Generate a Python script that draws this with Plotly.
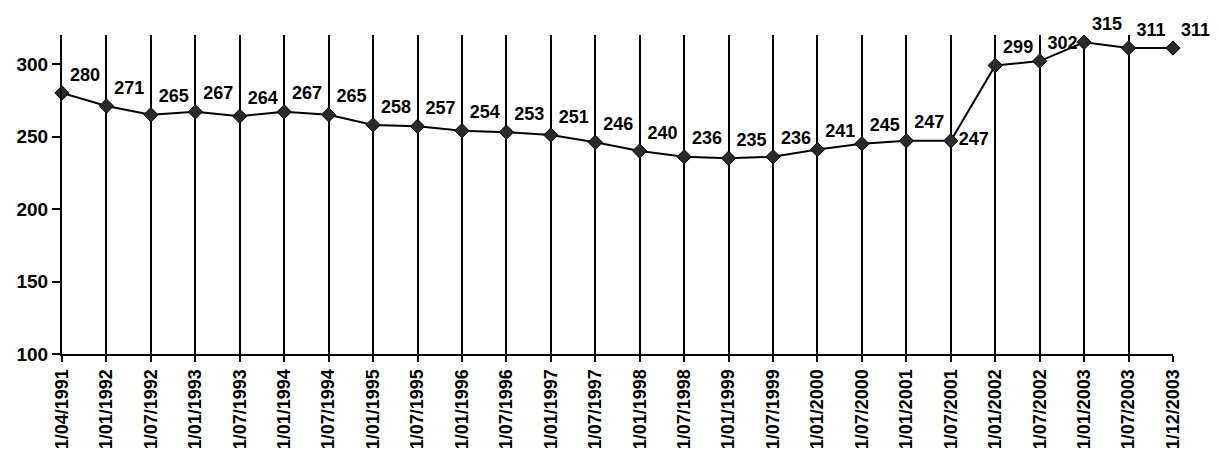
import plotly.graph_objects as go

dates = ["1/04/1991", "1/01/1992", "1/07/1992", "1/01/1993", "1/07/1993", "1/01/1994",
         "1/07/1994", "1/01/1995", "1/07/1995", "1/01/1996", "1/07/1996", "1/01/1997",
         "1/07/1997", "1/01/1998", "1/07/1998", "1/01/1999", "1/07/1999", "1/01/2000",
         "1/07/2000", "1/01/2001", "1/07/2001", "1/01/2002", "1/07/2002", "1/01/2003",
         "1/07/2003", "1/12/2003"]
values = [280, 271, 265, 267, 264, 267, 265, 258, 257, 254, 253, 251, 246, 240, 236,
          235, 236, 241, 245, 247, 247, 299, 302, 315, 311, 311]
y_ticks = [100, 150, 200, 250, 300]

idx = list(range(len(dates)))
positions = ["top right"] * len(values)
positions[20] = "middle right"

fig = go.Figure()
fig.add_trace(go.Scatter(
    x=idx, y=values, mode="lines+markers+text",
    text=[str(v) for v in values], textposition=positions,
    textfont=dict(family="Liberation Sans", size=18, color="black", weight="bold"),
    line=dict(color="black", width=2),
    marker=dict(symbol="diamond", size=11, color="#2a2a2a", line=dict(color="black", width=1)),
    cliponaxis=False, showlegend=False,
))

fig.update_layout(
    width=1210, height=455,
    margin=dict(l=54, r=45, t=27, b=109),
    paper_bgcolor="white", plot_bgcolor="white",
    font=dict(family="Liberation Sans", color="black"),
    xaxis=dict(
        range=[0, len(dates) - 1], tickmode="array", tickvals=idx, ticktext=dates,
        tickangle=-90, ticks="outside", ticklen=6, tickwidth=2, tickcolor="black",
        showgrid=True, gridcolor="black", gridwidth=2,
        showline=True, linecolor="black", linewidth=2, zeroline=False,
        tickfont=dict(family="Liberation Sans", size=18, color="black", weight="bold"),
        automargin=False,
    ),
    yaxis=dict(
        range=[100, 320], tickmode="array", tickvals=y_ticks,
        ticks="outside", ticklen=8, tickwidth=2, tickcolor="black",
        showgrid=False, showline=True, linecolor="black", linewidth=2, zeroline=False,
        tickfont=dict(family="Liberation Sans", size=19, color="black", weight="bold"),
        automargin=False,
    ),
)

fig.write_html("out.html")
